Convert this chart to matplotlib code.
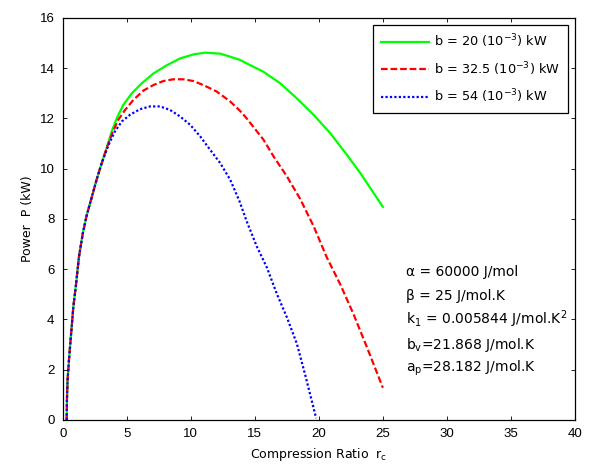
import matplotlib
matplotlib.use("Agg")
import matplotlib.pyplot as plt

plt.rcParams['font.family'] = ['Liberation Sans', 'DejaVu Sans']
plt.rcParams['mathtext.fontset'] = 'dejavusans'

# values
# rising part shared by all three curves
r_low = [0.31, 0.33, 0.38, 0.49, 0.65, 0.83, 1.04, 1.27, 1.56, 1.85, 2.15, 2.65, 3.05]
p_low = [0.0, 0.8, 1.6, 2.4, 3.4, 4.5, 5.4, 6.5, 7.4, 8.1, 8.65, 9.57, 10.23]

r_20 = r_low + [3.44, 3.83, 4.22, 4.73, 5.39, 6.17, 7.08, 8.13, 9.16, 10.2, 11.12,
                12.29, 13.07, 13.85, 14.37, 15.67, 16.98, 18.28, 19.58, 20.88,
                22.18, 23.23, 25.0]
p_20 = p_low + [10.85, 11.49, 12.01, 12.54, 13.0, 13.4, 13.79, 14.12, 14.39, 14.55,
                14.62, 14.58, 14.46, 14.33, 14.19, 13.86, 13.40, 12.80, 12.15,
                11.42, 10.56, 9.83, 8.48]

r_32 = r_low + [3.44, 3.9, 4.34, 4.87, 5.52, 6.3, 7.08, 7.86, 8.64, 9.42, 10.2, 10.98,
                12.03, 13.07, 13.85, 14.37, 15.67, 16.45, 17.5, 18.54, 19.6, 20.62,
                21.66, 22.7, 23.75, 25.0]
p_32 = p_low + [10.83, 11.45, 11.95, 12.34, 12.74, 13.11, 13.33, 13.49, 13.56, 13.56,
                13.49, 13.33, 13.07, 12.68, 12.3, 12.0, 11.16, 10.5, 9.7, 8.8, 7.7,
                6.47, 5.41, 4.22, 2.9, 1.28]

r_54 = r_low + [3.44, 3.70, 4.09, 4.61, 5.26, 6.04, 6.82, 7.6, 8.38, 9.16, 9.95,
                10.73, 11.5, 12.29, 13.07, 13.8, 14.37, 15.16, 15.94, 16.72, 17.5,
                18.28, 18.93, 19.79]
p_54 = p_low + [10.76, 11.09, 11.49, 11.88, 12.15, 12.37, 12.48, 12.48, 12.34, 12.08,
                11.75, 11.29, 10.76, 10.23, 9.57, 8.71, 7.9, 6.9, 6.07, 5.02, 4.09,
                3.04, 1.8, 0.07]

labels = ['b = 20 (10$^{-3}$) kW', 'b = 32.5 (10$^{-3}$) kW', 'b = 54 (10$^{-3}$) kW']

notes = ['α = 60000 J/mol', 'β = 25 J/mol.K',
         'k$_1$ = 0.005844 J/mol.K$^2$', 'b$_\\mathrm{v}$=21.868 J/mol.K',
         'a$_\\mathrm{p}$=28.182 J/mol.K']
note_y = [5.9, 4.95, 4.0, 3.0, 2.05]

fs = 9.5
txt = ['DejaVu Sans']

fig = plt.figure(figsize=(5.95, 4.68), dpi=100)
ax = fig.add_axes([0.1054, 0.1026, 0.8610, 0.8590])

ax.plot(r_20, p_20, color='#00ff00', lw=1.6, ls='-', label=labels[0])
ax.plot(r_32, p_32, color='#ff0000', lw=1.6, ls=(0, (3, 1.3)), label=labels[1])
ax.plot(r_54, p_54, color='#0000ff', lw=1.6, ls=(0, (1, 1)), label=labels[2])

for t, yy in zip(notes, note_y):
    ax.text(26.8, yy, t, fontsize=10, family=txt, va='center', ha='left')

ax.set_xlim(0, 40)
ax.set_ylim(0, 16)
ax.set_xticks(range(0, 41, 5))
ax.set_yticks(range(0, 17, 2))
ax.tick_params(direction='in', top=True, right=True, labelsize=fs, length=3,
               width=0.6, pad=6)
for s in ax.spines.values():
    s.set_linewidth(0.9)

ax.set_xlabel('Compression Ratio  r$_\\mathrm{c}$', fontsize=9, family=txt, labelpad=4)
ax.set_ylabel('Power  P (kW)', fontsize=9, family=txt, labelpad=4)

leg = ax.legend(loc='upper right', prop={'family': txt, 'size': 9.3}, fancybox=False,
                framealpha=1, edgecolor='black', handlelength=3.7, handletextpad=0.4,
                borderpad=0.6, labelspacing=0.75, borderaxespad=0.55)
leg.get_frame().set_linewidth(0.9)

fig.savefig('out.png', dpi=100)
